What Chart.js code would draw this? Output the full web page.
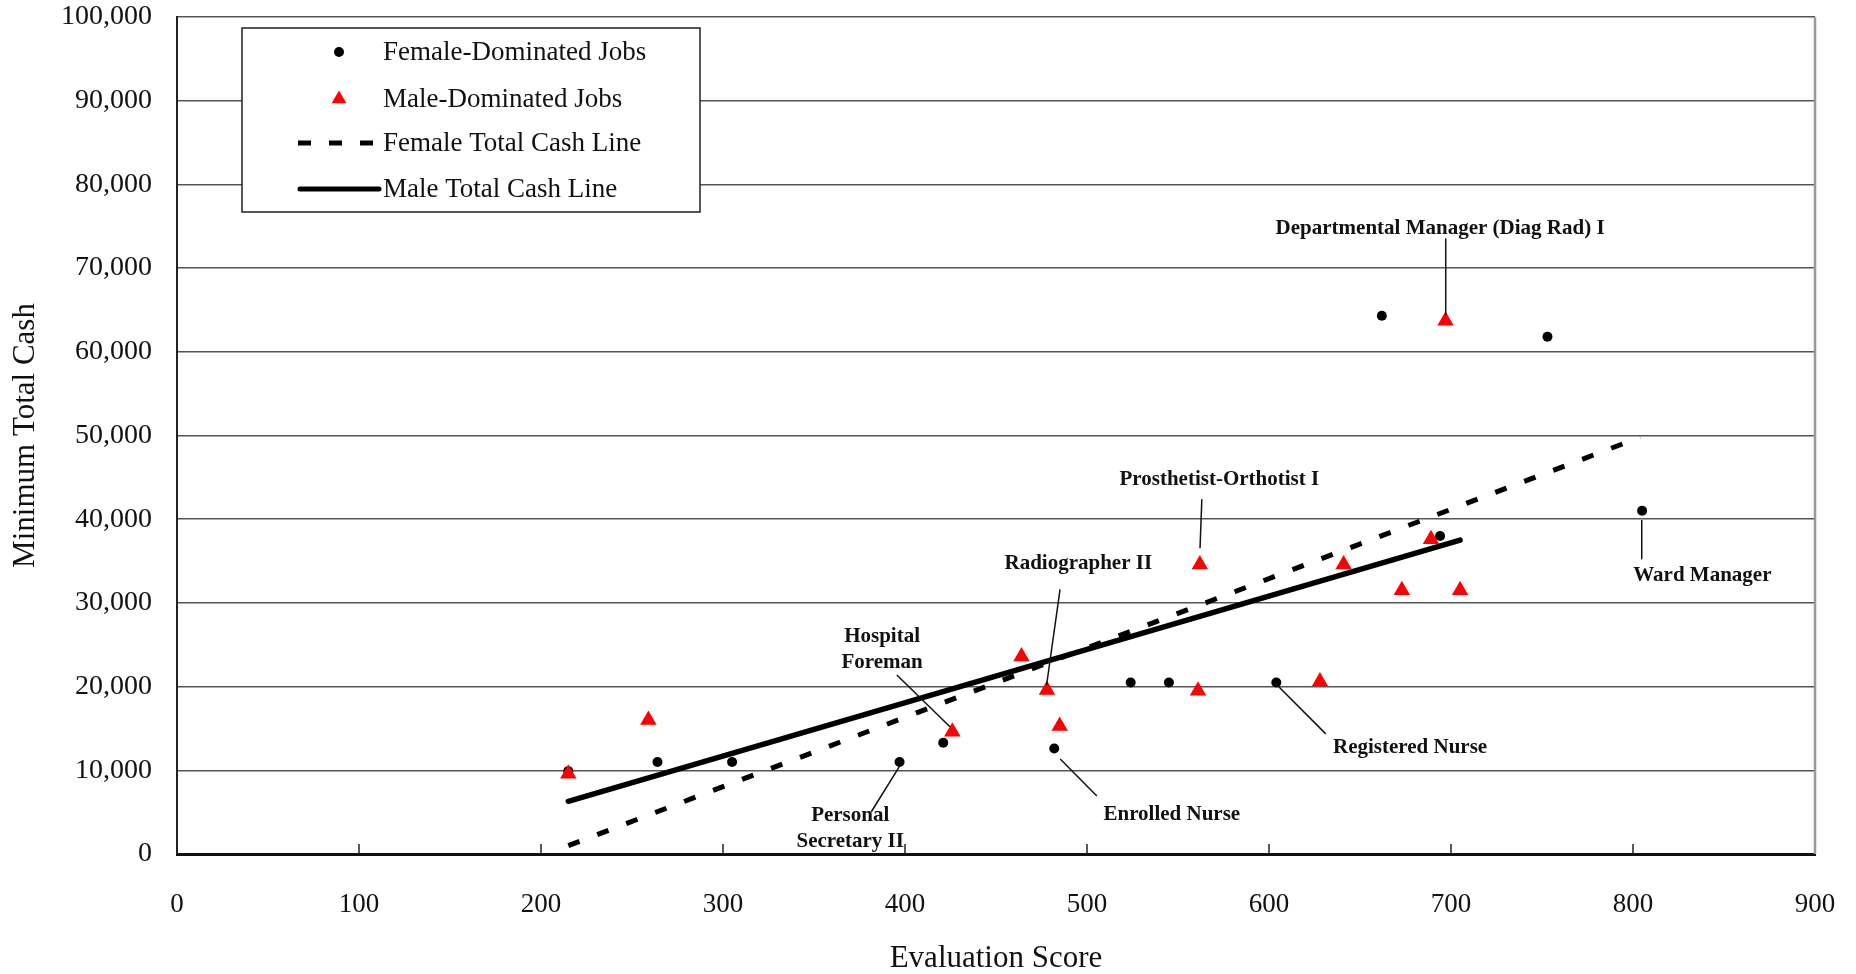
<!DOCTYPE html>
<html>
<head>
<meta charset="utf-8">
<script src="https://cdn.jsdelivr.net/npm/chart.js@4"></script>
<style>
  body { margin: 0; background: #fff; }
</style>
</head>
<body>
<canvas id="cashChart" width="1856" height="974"></canvas>
<script>
// --- Data ---
const femaleScores = [215, 264, 305, 397, 421, 482, 524, 545, 604, 662, 694, 753, 805];
const femaleCash   = [9900, 11000, 11000, 11000, 13300, 12600, 20500, 20500, 20500, 64300, 38000, 61800, 41000];

const maleScores = [215, 259, 426, 464, 478, 485, 561, 562, 628, 641, 673, 689, 697, 705];
const maleCash   = [9600, 16000, 14600, 23600, 19600, 15300, 19500, 34600, 20600, 34600, 31500, 37600, 63700, 31500];

// trend lines (end points)
const femaleLineScores = [215, 804];
const femaleLineCash   = [1000, 49800];
const maleLineScores   = [215, 705];
const maleLineCash     = [6300, 37500];

const xTickValues = [0, 100, 200, 300, 400, 500, 600, 700, 800, 900];
const yTickValues = [0, 10000, 20000, 30000, 40000, 50000, 60000, 70000, 80000, 90000, 100000];

const legendLabels = ['Female-Dominated Jobs', 'Male-Dominated Jobs', 'Female Total Cash Line', 'Male Total Cash Line'];

// annotation text, label anchor and leader line (all in data units)
const annotations = [
    { text: ['Departmental Manager (Diag Rad) I'], at: [694, 74750], from: [697.1, 73560], to: [697.1, 64400] },
    { text: ['Prosthetist-Orthotist I'], at: [572.7, 44770], from: [563.1, 42380], to: [562.1, 36520] },
    { text: ['Radiographer II'], at: [495.2, 34730], from: [485.2, 31620], to: [477.8, 20190] },
    { text: ['Registered Nurse'], at: [677.5, 12660], from: [603.3, 20430], to: [631.2, 14350] },
    { text: ['Ward Manager'], at: [838.1, 33250], from: [804.8, 39900], to: [804.8, 35210] },
    { text: ['Hospital', 'Foreman'], at: [387.4, 24430], from: [395.5, 21390], to: [424.7, 15210] },
    { text: ['Personal', 'Secretary II'], at: [369.9, 3000], from: [396.9, 10430], to: [381.5, 5050] },
    { text: ['Enrolled Nurse'], at: [546.6, 4660], from: [485.3, 11350], to: [505.4, 6930] }
];

const toPoints = (xs, ys) => xs.map((x, i) => ({ x: x, y: ys[i] }));

const serif = '"Liberation Serif", "Times New Roman", serif';
const dashPattern = [12, 19];

// Plugin: inward x ticks, right border, annotations, boxed legend
const extrasPlugin = {
    id: 'extras',
    afterDatasetsDraw(chart) {
        const { ctx, chartArea, scales } = chart;
        const xs = scales.x, ys = scales.y;
        ctx.save();

        // right border
        ctx.strokeStyle = '#999';
        ctx.lineWidth = 2.5;
        ctx.beginPath();
        ctx.moveTo(chartArea.right, chartArea.top);
        ctx.lineTo(chartArea.right, chartArea.bottom);
        ctx.stroke();

        // small inward ticks on the x axis
        ctx.strokeStyle = '#222';
        ctx.lineWidth = 1.5;
        xTickValues.slice(1, -1).forEach(v => {
            const px = xs.getPixelForValue(v);
            ctx.beginPath();
            ctx.moveTo(px, chartArea.bottom);
            ctx.lineTo(px, chartArea.bottom - 10);
            ctx.stroke();
        });

        // annotations
        ctx.fillStyle = '#111';
        ctx.strokeStyle = '#111';
        ctx.lineWidth = 1.5;
        ctx.font = 'bold 21px ' + serif;
        ctx.textAlign = 'center';
        ctx.textBaseline = 'middle';
        annotations.forEach(a => {
            ctx.beginPath();
            ctx.moveTo(xs.getPixelForValue(a.from[0]), ys.getPixelForValue(a.from[1]));
            ctx.lineTo(xs.getPixelForValue(a.to[0]), ys.getPixelForValue(a.to[1]));
            ctx.stroke();
            const cx = xs.getPixelForValue(a.at[0]);
            const cy = ys.getPixelForValue(a.at[1]);
            const lh = 26;
            a.text.forEach((line, i) => {
                ctx.fillText(line, cx, cy + (i - (a.text.length - 1) / 2) * lh);
            });
        });

        // legend box
        const bx = chartArea.left + 65, by = chartArea.top + 11;
        const bw = 458, bh = 184;
        ctx.fillStyle = '#fff';
        ctx.fillRect(bx, by, bw, bh);
        ctx.strokeStyle = '#222';
        ctx.lineWidth = 1.5;
        ctx.strokeRect(bx, by, bw, bh);

        const rows = [by + 24, by + 71, by + 115, by + 161];
        const symX = bx + 97, textX = bx + 141;
        // dot
        ctx.fillStyle = '#000';
        ctx.beginPath();
        ctx.arc(symX, rows[0], 5, 0, Math.PI * 2);
        ctx.fill();
        // triangle
        ctx.fillStyle = '#ff0000';
        ctx.beginPath();
        ctx.moveTo(symX, rows[1] - 8.5);
        ctx.lineTo(symX + 7.4, rows[1] + 4.3);
        ctx.lineTo(symX - 7.4, rows[1] + 4.3);
        ctx.closePath();
        ctx.fill();
        // dashed line
        ctx.strokeStyle = '#000';
        ctx.lineWidth = 5;
        ctx.setLineDash([13, 18]);
        ctx.beginPath();
        ctx.moveTo(bx + 56, rows[2]);
        ctx.lineTo(bx + 132, rows[2]);
        ctx.stroke();
        // solid line
        ctx.setLineDash([]);
        ctx.lineCap = 'round';
        ctx.beginPath();
        ctx.moveTo(bx + 58, rows[3]);
        ctx.lineTo(bx + 137, rows[3]);
        ctx.stroke();

        ctx.fillStyle = '#111';
        ctx.font = '27px ' + serif;
        ctx.textAlign = 'left';
        legendLabels.forEach((t, i) => ctx.fillText(t, textX, rows[i] + 1));

        ctx.restore();
    }
};

const chart = new Chart(document.getElementById('cashChart'), {
    type: 'scatter',
    data: {
        datasets: [
            {
                label: legendLabels[0],
                data: toPoints(femaleScores, femaleCash),
                pointStyle: 'circle',
                pointRadius: 5,
                pointBackgroundColor: '#000',
                pointBorderWidth: 0,
                showLine: false,
                order: 1
            },
            {
                label: legendLabels[1],
                data: toPoints(maleScores, maleCash),
                pointStyle: 'triangle',
                pointRadius: 9.5,
                pointBackgroundColor: '#ff0000',
                pointBorderWidth: 0,
                showLine: false,
                order: 0
            },
            {
                label: legendLabels[2],
                data: toPoints(femaleLineScores, femaleLineCash),
                showLine: true,
                borderColor: '#000',
                borderWidth: 5,
                borderDash: dashPattern,
                pointRadius: 0,
                order: 3
            },
            {
                label: legendLabels[3],
                data: toPoints(maleLineScores, maleLineCash),
                showLine: true,
                borderColor: '#000',
                borderWidth: 5.5,
                borderCapStyle: 'round',
                pointRadius: 0,
                order: 2
            }
        ]
    },
    options: {
        responsive: false,
        devicePixelRatio: 1,
        animation: false,
        layout: { padding: { top: 17, right: 41, left: 0, bottom: 0 } },
        plugins: {
            legend: { display: false },
            tooltip: { enabled: false }
        },
        scales: {
            x: {
                type: 'linear',
                min: 0,
                max: 900,
                afterBuildTicks: s => { s.ticks = xTickValues.map(v => ({ value: v })); },
                afterFit: s => {
                    s.height = 120;
                    s.paddingLeft = 0; s.paddingRight = 0;
                },
                ticks: {
                    color: '#111',
                    font: { family: serif, size: 27 },
                    padding: 35,
                    maxRotation: 0
                },
                grid: { display: false, drawTicks: false },
                border: { display: true, color: '#111', width: 3 },
                title: {
                    display: true,
                    text: 'Evaluation Score',
                    color: '#111',
                    font: { family: serif, size: 31, lineHeight: 1 },
                    padding: { top: 0, bottom: 0 }
                }
            },
            y: {
                type: 'linear',
                min: 0,
                max: 100000,
                afterBuildTicks: s => { s.ticks = yTickValues.map(v => ({ value: v })); },
                afterFit: s => {
                    s.width = 177;
                    s.paddingTop = 0; s.paddingBottom = 0;
                },
                ticks: {
                    color: '#111',
                    font: { family: serif, size: 28 },
                    padding: 25,
                    callback: v => v.toLocaleString('en-US')
                },
                grid: { color: '#555', lineWidth: 1.5, drawTicks: false },
                border: { display: true, color: '#222', width: 2 },
                title: {
                    display: true,
                    text: 'Minimum Total Cash',
                    color: '#111',
                    font: { family: serif, size: 31, lineHeight: 1 },
                    padding: { top: 10, bottom: 0 }
                }
            }
        }
    },
    plugins: [extrasPlugin]
});
</script>
</body>
</html>
